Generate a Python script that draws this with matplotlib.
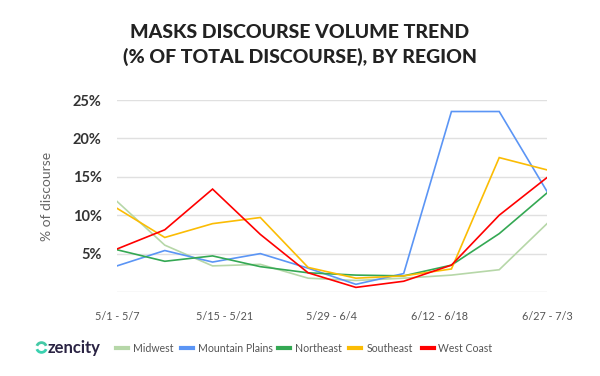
import matplotlib
matplotlib.use("Agg")
import matplotlib.pyplot as plt
from matplotlib.patches import Arc
from matplotlib.lines import Line2D

plt.rcParams['font.family'] = ['Lato', 'DejaVu Sans']

weeks = ["5/1 - 5/7", "5/8 - 5/14", "5/15 - 5/21", "5/22 - 5/28", "5/29 - 6/4",
         "6/5 - 6/11", "6/12 - 6/18", "6/19 - 6/25", "6/26 - 7/2", "6/27 - 7/3"]
tick_labels = ["5/1 - 5/7", "5/15 - 5/21", "5/29 - 6/4", "6/12 - 6/18", "6/27 - 7/3"]

midwest = [11.8, 6.1, 3.4, 3.6, 1.8, 1.5, 1.8, 2.2, 2.9, 8.9]
mountain_plains = [3.4, 5.4, 3.9, 5.0, 3.1, 1.0, 2.4, 23.5, 23.5, 13.1]
northeast = [5.5, 4.0, 4.7, 3.3, 2.5, 2.2, 2.1, 3.5, 7.6, 12.9]
southeast = [10.9, 7.1, 8.9, 9.7, 3.2, 1.8, 2.1, 3.0, 17.5, 15.9]
west_coast = [5.6, 8.1, 13.4, 7.5, 2.5, 0.6, 1.4, 3.5, 10.0, 14.9]

series = [
    ("Midwest", midwest, "#b6d7a8"),
    ("Mountain Plains", mountain_plains, "#5b95f5"),
    ("Northeast", northeast, "#34a853"),
    ("Southeast", southeast, "#fbbc04"),
    ("West Coast", west_coast, "#ff0000"),
]

fig = plt.figure(figsize=(6.0, 3.76), dpi=100)
ax = fig.add_axes([117/600, 1-292/376, (547-117)/600, (292-100)/376])

x = list(range(len(weeks)))
for name, vals, col in series:
    ax.plot(x, vals, color=col, lw=1.2, solid_joinstyle='miter', zorder=3)

ax.set_xlim(0, len(weeks) - 1)
ax.set_ylim(0, 25)
ax.set_yticks([0, 5, 10, 15, 20, 25])
ax.set_yticklabels(["", "5%", "10%", "15%", "20%", "25%"])
n = len(tick_labels)
ax.set_xticks([i * (len(weeks) - 1) / (n - 1) for i in range(n)])
ax.set_xticklabels(tick_labels)
ax.grid(axis='y', color='#e0e0e0', lw=1.0, zorder=0)
for s in ax.spines.values():
    s.set_visible(False)
ax.tick_params(axis='both', length=0)
ax.tick_params(axis='y', pad=11, labelsize=10.5, labelcolor='#333333')
ax.tick_params(axis='x', pad=14, labelsize=7.8, labelcolor='#555555')
for t in ax.get_yticklabels():
    t.set_fontweight('bold')

ax.set_ylabel("% of discourse", fontsize=10, color='#666666', labelpad=14)

fig.text(0.5, 1-33/376, "MASKS DISCOURSE VOLUME TREND", ha='center', va='center',
         fontsize=14, fontweight='black', color='#222222')
fig.text(0.5, 1-57/376, "(% OF TOTAL DISCOURSE), BY REGION", ha='center', va='center',
         fontsize=14, fontweight='black', color='#222222')

# legend
ly = 1 - 348/376
positions = [(116, 133), (181, 198), (278, 295), (349, 367), (422, 438)]
for (name, vals, col), (px, tx) in zip(series, positions):
    fig.add_artist(Line2D([px/600, (px+12)/600], [ly, ly], color=col, lw=3,
                          transform=fig.transFigure))
    fig.text(tx/600, ly, name, ha='left', va='center', fontsize=7.6, color='#555555')

# zencity logo
lax = fig.add_axes([34/600, 1-355/376, 15/600, 15/376])
lax.set_xlim(-1, 1); lax.set_ylim(-1, 1); lax.axis('off')
lax.add_patch(Arc((0, 0), 1.3, 1.3, theta1=20, theta2=160, color='#45c9a6', lw=2))
lax.add_patch(Arc((0, 0), 1.3, 1.3, theta1=200, theta2=340, color='#3ad1b0', lw=2))
fig.text(48/600, ly, "zencity", ha='left', va='center', fontsize=12,
         fontweight='bold', color='#2a2343')

fig.savefig("out.png", dpi=100)
